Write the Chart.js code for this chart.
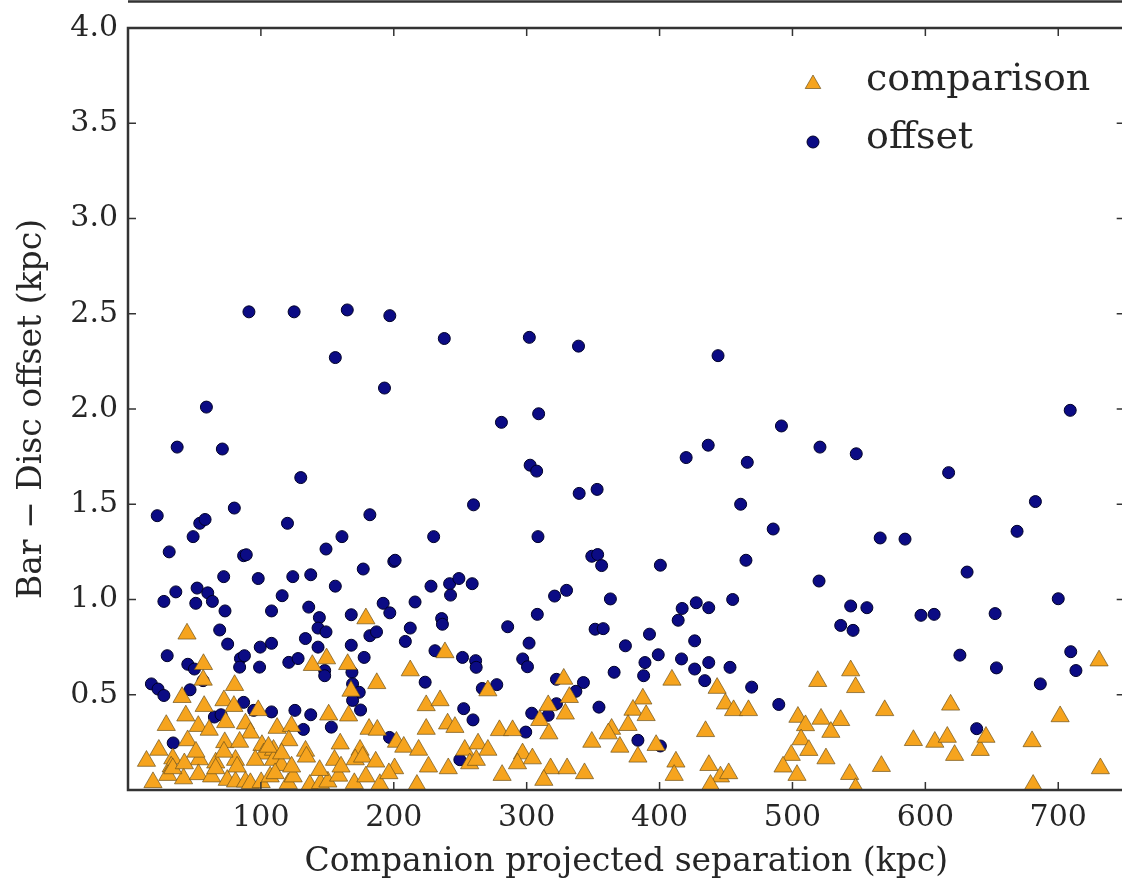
<!DOCTYPE html>
<html>
<head>
<meta charset="utf-8">
<script src="https://cdn.jsdelivr.net/npm/chart.js@4"></script>
<style>
  html, body { margin: 0; padding: 0; background: #fff; overflow: hidden; }
  #wrap { width: 1122px; height: 884px; overflow: hidden; }
</style>
</head>
<body>
<div id="wrap"><canvas id="chart" width="1136" height="884"></canvas></div>
<script>
// Companion projected separation (kpc) vs Bar - Disc offset (kpc)
const compX = [
  44.4, 179, 56.8, 56.6, 138.7, 149.4, 165.3, 187.2, 167.8, 80.2, 40.7, 57.3, 72.2, 79.7, 98,
  43.5, 73.5, 28.8, 52.9, 61.1, 88.4, 92.1, 112.2, 123, 151, 166, 181.4, 187.6, 202,
  44.9, 72.8, 84, 100.8, 102, 121, 133.6, 159.7, 174.6, 23.2, 109.5,
  13.9, 33.7, 32.5, 53.6, 66, 80.9, 109.5, 115.5, 155.4, 171, 200.6,
  18.8, 30, 41.8, 53, 62.9, 74.7, 80.9, 88.4, 92.1, 100.2, 107, 110.7, 120.6, 124.3,
  136.8, 144.8, 150.4, 158.5, 170.3, 179, 189.5,
  33.7, 42.4, 51.1, 66, 72.2, 82.1, 95.8, 105.7, 115.6, 123.1, 134.3, 144.2, 160.3, 176.5, 186.4, 196.3,
  238.5, 212.4, 270.8, 327.9, 332.1, 316.2, 329.1, 224.4, 234.8, 409.3, 443.3, 449.5, 455.7, 466.9,
  387.4, 380, 389.9, 309.8, 240.5, 246, 224.4, 279.5, 289.4, 316.7, 363.9, 376.3, 361.4, 434.6,
  207.5, 218.7, 253.4, 263.4, 270.8, 257.1, 262.1, 296.9, 304.3, 293.1, 349, 370.1, 383.7, 397.4,
  226.1, 241, 281.5, 318, 330.4, 343.5, 312.9, 412.3, 411, 437.1, 445.8, 452, 217.4, 438.3,
  543.8, 519, 547.5, 730.7, 504.1, 509.8, 521.5, 536.3, 528.9, 506.5, 512.3, 499.1, 492.9, 503.4,
  525.2, 543, 547.5, 566.9, 569.4, 619, 591, 607.1, 616.5, 622, 641.3, 645.6, 680.3, 701.4, 681.1, 731.7
];
const compY = [
  0.82, 0.90, 0.66, 0.578, 0.655, 0.69, 0.66, 0.56, 0.52, 0.55, 0.487, 0.44, 0.47, 0.44, 0.418,
  0.39, 0.355, 0.34, 0.335, 0.315, 0.348, 0.30, 0.325, 0.335, 0.395, 0.39, 0.32, 0.315, 0.252,
  0.26, 0.25, 0.252, 0.235, 0.19, 0.26, 0.205, 0.243, 0.21, 0.21, 0.21,
  0.152, 0.165, 0.122, 0.16, 0.143, 0.157, 0.157, 0.13, 0.157, 0.16, 0.113,
  0.04, 0.078, 0.06, 0.082, 0.07, 0.052, 0.043, 0.043, 0.035, 0.04, 0.07, 0.087, 0.035, 0.07,
  0.026, 0.035, 0.043, 0.074, 0.035, 0.07, 0.03,
  0.113, 0.139, 0.2, 0.113, 0.2, 0.122, 0.157, 0.226, 0.191, 0.122, 0.174, 0.104, 0.122, 0.174, 0.148, 0.087,
  0.722, 0.627, 0.522, 0.583, 0.487, 0.444, 0.40, 0.444, 0.47, 0.578, 0.535, 0.453, 0.418, 0.418,
  0.479, 0.42, 0.392, 0.366, 0.348, 0.33, 0.32, 0.313, 0.313, 0.296, 0.32, 0.34, 0.296, 0.308,
  0.226, 0.21, 0.21, 0.243, 0.21, 0.139, 0.157, 0.191, 0.165, 0.139, 0.252, 0.226, 0.174, 0.235,
  0.122, 0.113, 0.078, 0.113, 0.113, 0.087, 0.052, 0.148, 0.078, 0.13, 0.07, 0.087, 0.026, 0.026,
  0.627, 0.571, 0.539, 0.679, 0.383, 0.339, 0.373, 0.366, 0.304, 0.265, 0.209, 0.183, 0.122, 0.078,
  0.165, 0.083, 0.009, 0.125, 0.418, 0.447, 0.261, 0.252, 0.278, 0.183, 0.209, 0.278, 0.255, 0.386, 0.026, 0.113
];
const offX = [
  91, 125, 165, 197, 156, 193, 59, 37, 71, 130, 22, 80, 54, 58, 120, 182, 49, 161,
  31, 87, 89, 149, 177, 200, 72, 98, 124, 137.5, 156, 36, 52, 60, 63.5, 27, 51, 116,
  73, 108, 136, 168, 192, 197, 144, 69, 143, 149, 182, 187, 75, 99.5, 108, 133.5, 143, 168,
  29.5, 45, 84.6, 87.6, 84, 99, 121, 128, 148, 148, 177.7, 168.5, 169, 174, 169, 175,
  17.6, 22.6, 27, 46.7, 50, 56.5, 87, 65, 70, 94.6, 108, 125.6, 137.5, 132, 153, 196.8, 34,
  238, 302, 339, 444, 281, 309, 302.6, 307.5, 260, 339.5, 353, 420, 436.6, 466, 461, 230, 308.5,
  201, 349, 353.4, 356.4, 400.6, 465, 228, 242, 249, 242.7, 259, 321, 330, 363, 455, 216,
  417, 427.6, 437, 414, 236, 236.6, 212.4, 285.7, 308, 351.5, 357.6, 392.4, 208.7, 301.8,
  374.3, 426.4, 231, 399, 251.7, 261.6, 262, 297, 300.6, 389, 416.5, 426.4, 437, 453,
  365.8, 388, 434, 223.6, 266.6, 277.5, 322.4, 342.7, 337, 322.4, 354.4, 252.6, 259.6,
  303.8, 316.2, 299.3, 383.7, 400.6, 249.7, 469.3,
  709, 491.7, 520.7, 548, 617.5, 485.5, 682.8, 669, 566, 584.7, 520, 631.4, 543.8, 556,
  536.3, 545.6, 596.7, 606.6, 652.5, 700, 626, 653.5, 709.4, 713.3, 686.5, 489.7, 638.6
];
const offY = [
  2.51, 2.51, 2.52, 2.49, 2.27, 2.11, 2.01, 1.80, 1.79, 1.64, 1.44, 1.48, 1.40, 1.42, 1.40, 1.445, 1.33, 1.33,
  1.25, 1.23, 1.235, 1.265, 1.16, 1.20, 1.12, 1.11, 1.12, 1.13, 1.07, 1.04, 1.06, 1.035, 0.99, 0.99, 0.98, 1.02,
  0.94, 0.94, 0.96, 0.92, 0.98, 0.93, 0.905, 0.84, 0.85, 0.83, 0.81, 0.83, 0.766, 0.75, 0.77, 0.795, 0.75, 0.76,
  0.705, 0.66, 0.69, 0.705, 0.645, 0.645, 0.67, 0.69, 0.627, 0.60, 0.696, 0.618, 0.557, 0.513, 0.47, 0.42,
  0.557, 0.53, 0.496, 0.526, 0.635, 0.574, 0.46, 0.383, 0.395, 0.418, 0.41, 0.418, 0.395, 0.318, 0.33, 0.276, 0.247,
  2.37, 2.376, 2.33, 2.28, 1.93, 1.975, 1.705, 1.674, 1.497, 1.557, 1.578, 1.745, 1.81, 1.72, 1.50, 1.33, 1.33,
  1.206, 1.227, 1.236, 1.178, 1.18, 1.206, 1.07, 1.083, 1.11, 1.023, 1.083, 1.018, 1.048, 1.003, 1.0, 0.987,
  0.953, 0.983, 0.957, 0.891, 0.90, 0.87, 0.85, 0.857, 0.922, 0.844, 0.847, 0.818, 0.78, 0.771,
  0.757, 0.783, 0.731, 0.71, 0.696, 0.679, 0.644, 0.688, 0.647, 0.669, 0.688, 0.635, 0.669, 0.644,
  0.618, 0.60, 0.574, 0.566, 0.533, 0.553, 0.581, 0.564, 0.518, 0.453, 0.435, 0.427, 0.368,
  0.403, 0.392, 0.304, 0.261, 0.231, 0.159, 0.54,
  1.993, 1.911, 1.80, 1.765, 1.666, 1.37, 1.514, 1.358, 1.323, 1.317, 1.097, 1.144, 0.966, 0.957,
  0.864, 0.838, 0.917, 0.922, 0.926, 1.004, 0.708, 0.641, 0.726, 0.627, 0.557, 0.449, 0.322
];
const xTicks = [100, 200, 300, 400, 500, 600, 700];
const yTicks = [0.5, 1.0, 1.5, 2.0, 2.5, 3.0, 3.5, 4.0];
const xTitle = 'Companion projected separation (kpc)';
const yTitle = 'Bar \u2212 Disc offset (kpc)';

const serif = '"DejaVu Serif", "Liberation Serif", serif';
const textColor = '#262626';
const frameColor = '#333333';

function toPoints(xs, ys) {
  return xs.map((x, i) => ({ x: x, y: ys[i] }));
}

// axes frame, inward tick marks and the edge of the panel above
const framePlugin = {
  id: 'frame',
  afterDatasetsDraw(chart) {
    const { ctx, chartArea: a, scales } = chart;
    ctx.save();
    ctx.strokeStyle = frameColor;
    ctx.lineWidth = 1.5;
    ctx.beginPath();
    scales.x.ticks.forEach(t => {
      const px = scales.x.getPixelForValue(t.value);
      ctx.moveTo(px, a.bottom); ctx.lineTo(px, a.bottom - 8);
      ctx.moveTo(px, a.top); ctx.lineTo(px, a.top + 8);
    });
    scales.y.ticks.forEach(t => {
      const py = scales.y.getPixelForValue(t.value);
      ctx.moveTo(a.left, py); ctx.lineTo(a.left + 8, py);
      ctx.moveTo(a.right, py); ctx.lineTo(a.right - 8, py);
    });
    ctx.stroke();
    ctx.lineWidth = 2.5;
    ctx.strokeRect(a.left, a.top, a.right - a.left, a.bottom - a.top);
    ctx.beginPath();
    ctx.moveTo(a.left, 1.5);
    ctx.lineTo(a.right, 1.5);
    ctx.stroke();
    ctx.restore();
  }
};

// legend inside the axes, top right, no frame
const legendPlugin = {
  id: 'innerLegend',
  afterDraw(chart) {
    const ctx = chart.ctx;
    const rows = [{ marker: 84, text: 90 }, { marker: 142, text: 148 }];
    chart.data.datasets.forEach((ds, i) => {
      const row = rows[i];
      const mx = 813;
      const r = ds.pointStyle === 'triangle' ? 9 : ds.pointRadius;
      ctx.save();
      ctx.fillStyle = ds.backgroundColor;
      ctx.strokeStyle = ds.borderColor;
      ctx.lineWidth = ds.borderWidth;
      ctx.beginPath();
      if (ds.pointStyle === 'triangle') {
        ctx.moveTo(mx, row.marker - r);
        ctx.lineTo(mx + r * 0.866, row.marker + r / 2);
        ctx.lineTo(mx - r * 0.866, row.marker + r / 2);
        ctx.closePath();
      } else {
        ctx.arc(mx, row.marker, r, 0, Math.PI * 2);
      }
      ctx.fill();
      ctx.stroke();
      ctx.fillStyle = textColor;
      ctx.font = '38px ' + serif;
      ctx.textBaseline = 'alphabetic';
      ctx.textAlign = 'left';
      ctx.fillText(ds.label, 866, row.text);
      ctx.restore();
    });
  }
};

new Chart(document.getElementById('chart'), {
  type: 'scatter',
  data: {
    datasets: [
      {
        label: 'comparison',
        data: toPoints(compX, compY),
        pointStyle: 'triangle',
        pointRadius: 10.5,
        backgroundColor: '#f6a41e',
        borderColor: 'rgba(105, 78, 25, 0.85)',
        borderWidth: 0.8,
        clip: 0
      },
      {
        label: 'offset',
        data: toPoints(offX, offY),
        pointStyle: 'circle',
        pointRadius: 6,
        backgroundColor: '#0b0b84',
        borderColor: '#000028',
        borderWidth: 1,
        clip: 0
      }
    ]
  },
  options: {
    responsive: false,
    animation: false,
    devicePixelRatio: 1,
    layout: { padding: { left: 0, top: 24, right: 0, bottom: 0 } },
    plugins: {
      legend: { display: false },
      tooltip: { enabled: false }
    },
    scales: {
      x: {
        type: 'linear',
        min: 0,
        max: 750,
        grid: { display: false, drawTicks: false },
        border: { display: false },
        afterFit: s => { s.height = 94; },
        afterBuildTicks: s => { s.ticks = xTicks.map(v => ({ value: v })); },
        ticks: {
          autoSkip: false,
          maxRotation: 0,
          padding: 10,
          color: textColor,
          font: { family: serif, size: 30 },
          callback: v => String(v)
        },
        title: {
          display: true,
          text: xTitle,
          color: textColor,
          font: { family: serif, size: 33 },
          padding: { top: 0, bottom: 2 }
        }
      },
      y: {
        type: 'linear',
        min: 0,
        max: 4,
        grid: { display: false, drawTicks: false },
        border: { display: false },
        afterFit: s => { s.width = 128; },
        afterBuildTicks: s => { s.ticks = yTicks.map(v => ({ value: v })); },
        ticks: {
          autoSkip: false,
          padding: 10,
          color: textColor,
          font: { family: serif, size: 30 },
          callback: v => v.toFixed(1)
        },
        title: {
          display: true,
          text: yTitle,
          color: textColor,
          font: { family: serif, size: 33 },
          padding: { top: 13, bottom: 0 }
        }
      }
    }
  },
  plugins: [framePlugin, legendPlugin]
});
</script>
</body>
</html>
